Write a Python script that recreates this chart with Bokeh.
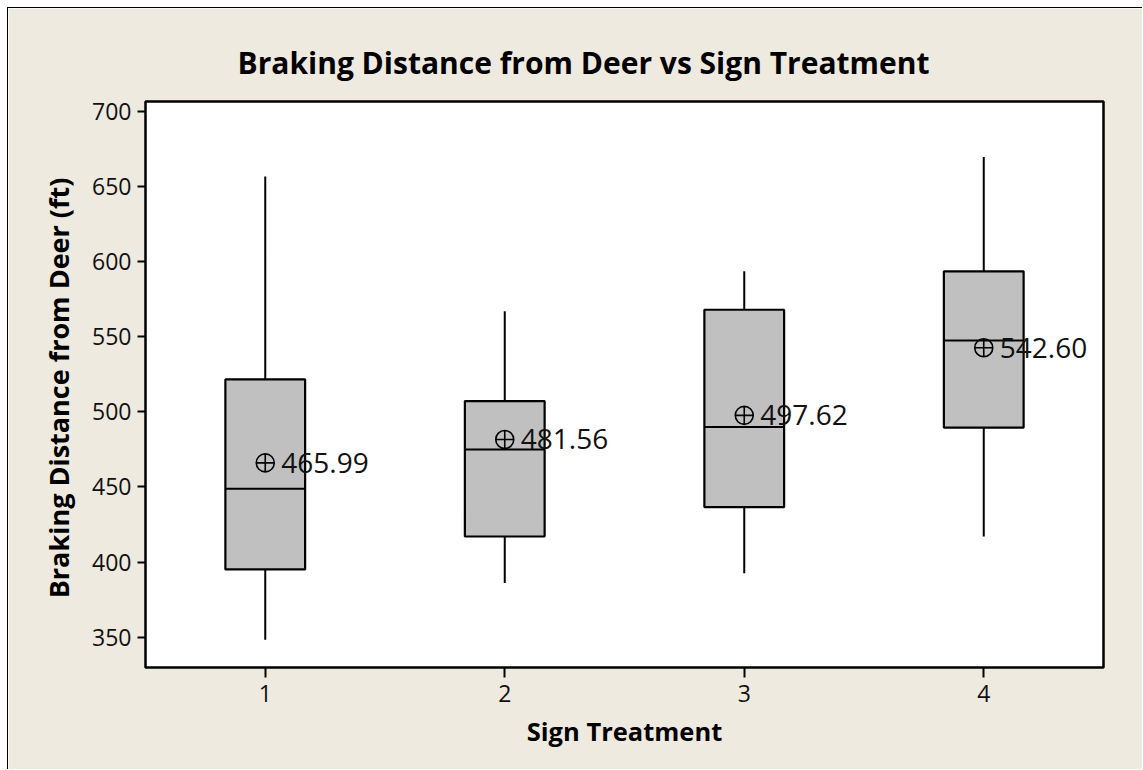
from bokeh.plotting import figure
from bokeh.models import Range1d, FixedTicker, ColumnDataSource
from bokeh.embed import file_html
from bokeh.resources import INLINE
from bokeh.core.properties import value

# ---- data ----
treatments = [1, 2, 3, 4]
q1 = [395.1, 417.0, 436.5, 489.5]
medians = [448.8, 474.9, 489.8, 547.5]
q3 = [521.5, 507.1, 567.9, 593.5]
whisker_low = [348.3, 386.0, 392.6, 417.0]
whisker_high = [656.6, 566.9, 593.5, 669.5]
means = [465.99, 481.56, 497.62, 542.60]
mean_labels = ["465.99", "481.56", "497.62", "542.60"]
y_ticks = [350, 400, 450, 500, 550, 600, 650, 700]

BOX_W = 0.333
BG = "#EEEAE0"
FONT = "Open Sans"

src = ColumnDataSource(dict(
    x=treatments, q1=q1, med=medians, q3=q3, lo=whisker_low, hi=whisker_high,
    mean=means, lab=mean_labels,
    x0=[t - BOX_W / 2 for t in treatments], x1=[t + BOX_W / 2 for t in treatments],
))

p = figure(width=1135, height=762, output_backend="svg", toolbar_location=None,
           x_range=Range1d(0.5, 4.5), y_range=Range1d(329.8, 706.5),
           min_border_left=137, min_border_top=93, min_border_right=40, min_border_bottom=103)
p.styles = {"border-left": "1px solid #000000", "border-top": "1px solid #000000",
            "margin-left": "7px", "margin-top": "7px"}

p.background_fill_color = "white"
p.border_fill_color = BG
p.outline_line_color = "black"
p.outline_line_width = 2.5
p.xgrid.visible = False
p.ygrid.visible = False

# title
p.title.text = "Braking Distance from Deer vs Sign Treatment"
p.title.text_font = FONT
p.title.text_font_style = "bold"
p.title.text_font_size = "30px"
p.title.text_color = "black"
p.title.align = "left"
p.title.offset = 92
p.title.standoff = 37

for ax in (p.xaxis[0], p.yaxis[0]):
    ax.axis_line_color = None
    ax.major_tick_line_color = "black"
    ax.major_tick_line_width = 2
    ax.major_tick_in = 0
    ax.minor_tick_line_color = None
    ax.major_label_text_font = FONT
    ax.major_label_text_font_size = "23px"
    ax.major_label_text_color = "#111111"
    ax.axis_label_text_font = FONT
    ax.axis_label_text_font_style = "bold"
    ax.axis_label_text_color = "black"

p.xaxis.ticker = FixedTicker(ticks=treatments)
p.xaxis.major_tick_out = 10
p.xaxis.major_label_standoff = 7
p.xaxis.axis_label = "Sign Treatment"
p.xaxis.axis_label_standoff = 9
p.xaxis.axis_label_text_font_size = "25.5px"

p.yaxis.ticker = FixedTicker(ticks=y_ticks)
p.yaxis.major_tick_out = 8
p.yaxis.major_label_standoff = 6
p.yaxis.axis_label = "Braking Distance from Deer  (ft)"
p.yaxis.axis_label_standoff = 12
p.yaxis.axis_label_text_font_size = "27px"

# whiskers
p.segment(x0="x", y0="q3", x1="x", y1="hi", source=src, line_color="black", line_width=2)
p.segment(x0="x", y0="q1", x1="x", y1="lo", source=src, line_color="black", line_width=2)
# boxes
p.vbar(x="x", width=BOX_W, bottom="q1", top="q3", source=src,
       fill_color="#C0C0C0", line_color="black", line_width=2.2)
# medians
p.segment(x0="x0", y0="med", x1="x1", y1="med", source=src, line_color="black", line_width=2)
# means
p.scatter(x="x", y="mean", source=src, marker="circle_cross", size=18,
          fill_color=None, line_color="black", line_width=1.6)
p.text(x="x", y="mean", text="lab", source=src, x_offset=16,
       text_baseline="middle", text_align="left", text_font=value(FONT),
       text_font_size="28px", text_color="#111111")

open("out.html", "w").write(file_html(p, INLINE))
